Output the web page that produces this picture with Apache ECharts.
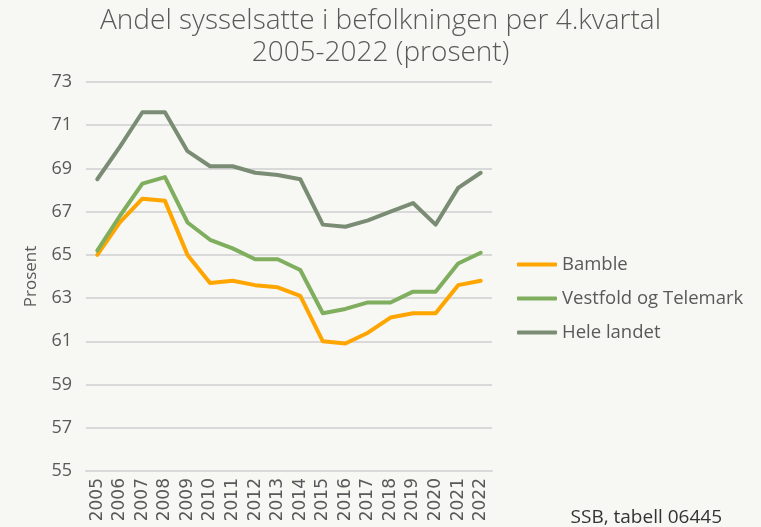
<!DOCTYPE html>
<html>
<head>
<meta charset="utf-8">
<script src="https://cdn.jsdelivr.net/npm/echarts@6/dist/echarts.min.js"></script>
<style>
  html, body { margin: 0; padding: 0; background: #f7f7f3; }
  #chart { width: 761px; height: 527px; }
</style>
</head>
<body>
<div id="chart"></div>
<script>
const years = ['2005', '2006', '2007', '2008', '2009', '2010', '2011', '2012', '2013',
  '2014', '2015', '2016', '2017', '2018', '2019', '2020', '2021', '2022'];
const bamble = [65.0, 66.5, 67.6, 67.5, 65.0, 63.7, 63.8, 63.6, 63.5, 63.1,
  61.0, 60.9, 61.4, 62.1, 62.3, 62.3, 63.6, 63.8];
const vestfoldTelemark = [65.2, 66.8, 68.3, 68.6, 66.5, 65.7, 65.3, 64.8, 64.8, 64.3,
  62.3, 62.5, 62.8, 62.8, 63.3, 63.3, 64.6, 65.1];
const heleLandet = [68.5, 70.0, 71.6, 71.6, 69.8, 69.1, 69.1, 68.8, 68.7, 68.5,
  66.4, 66.3, 66.6, 67.0, 67.4, 66.4, 68.1, 68.8];

const textColor = '#595959';
const font = 'Open Sans';

const chart = echarts.init(document.getElementById('chart'));

function line(name, data, color) {
  return {
    name: name,
    type: 'line',
    data: data,
    symbol: 'none',
    lineStyle: { width: 4, color: color, cap: 'round', join: 'round' },
    itemStyle: { color: color }
  };
}

chart.setOption({
  backgroundColor: '#f7f7f3',
  animation: false,
  title: {
    text: 'Andel sysselsatte i befolkningen per 4.kvartal\n2005-2022 (prosent)',
    left: 'center',
    top: 0,
    textStyle: {
      fontFamily: font, fontWeight: 300, fontSize: 28, color: textColor, lineHeight: 32
    }
  },
  legend: {
    orient: 'vertical',
    left: 512,
    top: 250,
    itemWidth: 40,
    itemHeight: 4,
    itemGap: 15,
    icon: 'roundRect',
    textStyle: { fontFamily: font, fontSize: 18.5, color: textColor },
    data: ['Bamble', 'Vestfold og Telemark', 'Hele landet']
  },
  grid: { left: 86, right: 269, top: 82, bottom: 56 },
  xAxis: {
    type: 'category',
    data: years,
    boundaryGap: true,
    axisLine: { lineStyle: { color: '#d9d9d9', width: 2 } },
    axisTick: { show: false },
    axisLabel: {
      rotate: 90, fontFamily: 'DejaVu Sans', fontSize: 17, color: textColor, margin: 7, interval: 0
    }
  },
  yAxis: {
    type: 'value',
    min: 55,
    max: 73,
    interval: 2,
    name: 'Prosent',
    nameLocation: 'middle',
    nameGap: 46,
    nameTextStyle: { fontFamily: font, fontSize: 17, color: textColor },
    axisLine: { show: false },
    axisTick: { show: false },
    axisLabel: { fontFamily: font, fontSize: 18, color: textColor, margin: 14 },
    splitLine: { lineStyle: { color: '#d9d9d9', width: 2 } }
  },
  graphic: [{
    type: 'text',
    right: 39,
    bottom: 0,
    style: { text: 'SSB, tabell 06445', fontFamily: font, fontSize: 19, fill: '#333333' }
  }],
  series: [
    line('Bamble', bamble, '#ffa500'),
    line('Vestfold og Telemark', vestfoldTelemark, '#7fae5e'),
    line('Hele landet', heleLandet, '#7a8d74')
  ]
});
</script>
</body>
</html>
